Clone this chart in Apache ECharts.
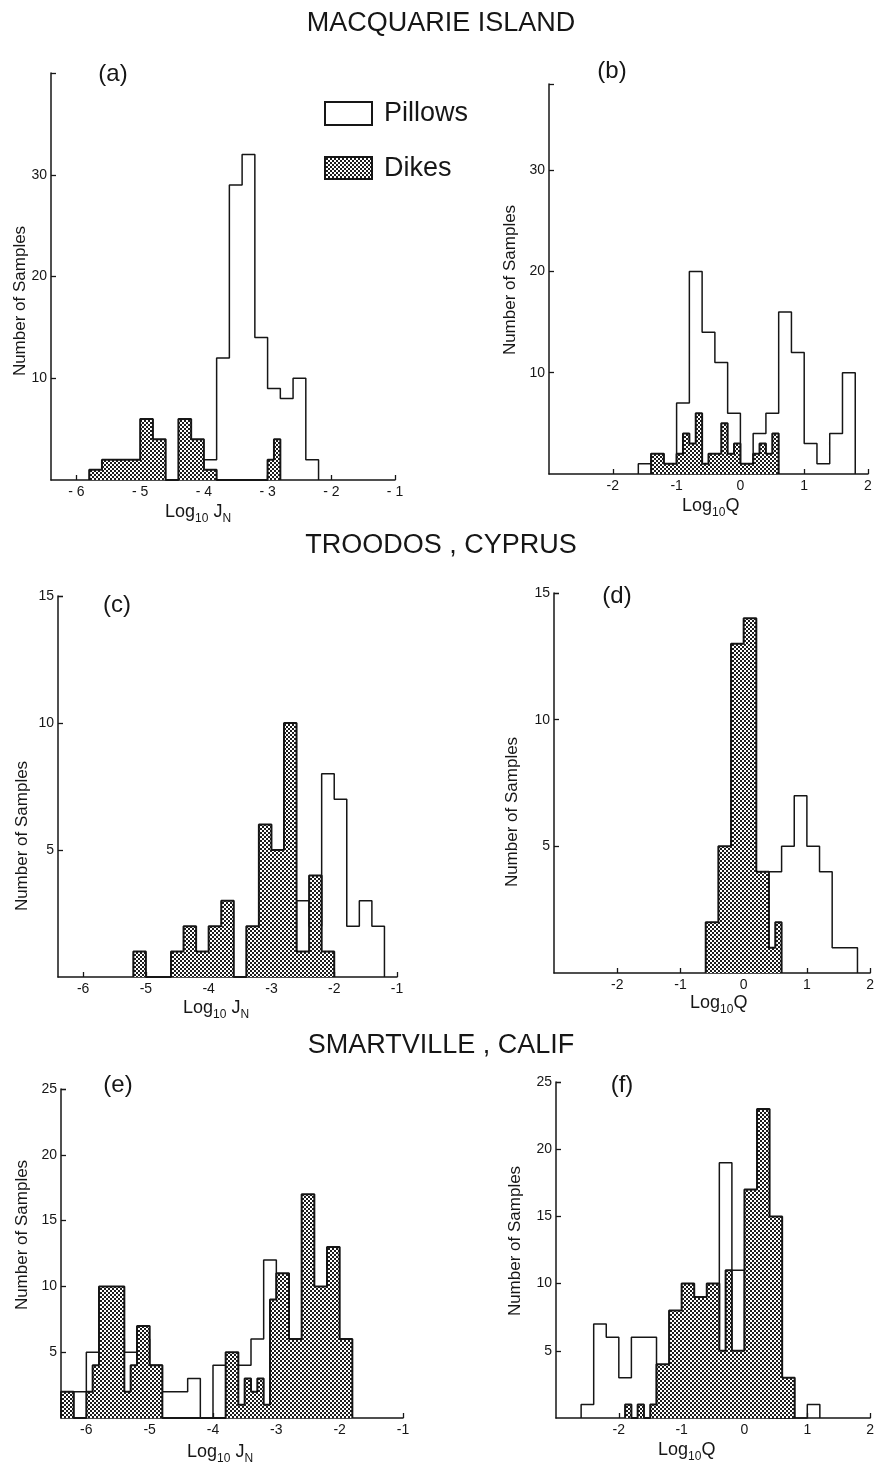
<!DOCTYPE html>
<html>
<head>
<meta charset="utf-8">
<style>
  html, body { margin: 0; padding: 0; background: #fff; }
  #main { width: 877px; height: 1466px; }
</style>
<script src="https://cdn.jsdelivr.net/npm/echarts@6/dist/echarts.min.js"></script>
</head>
<body>
<div id="main"></div>
<script>
// each bin: [from, to, count]
const pillowsA = [[-4.0, -3.8, 2], [-3.8, -3.6, 12], [-3.6, -3.4, 29], [-3.4, -3.2, 32], [-3.2, -3.0, 14],
  [-3.0, -2.8, 9], [-2.8, -2.6, 8], [-2.6, -2.4, 10], [-2.4, -2.2, 2]]
const dikesA = [[-5.8, -5.6, 1], [-5.6, -5.4, 2], [-5.4, -5.2, 2], [-5.2, -5.0, 2], [-5.0, -4.8, 6], [-4.8, -4.6, 4],
  [-4.4, -4.2, 6], [-4.2, -4.0, 4], [-4.0, -3.8, 1], [-3.0, -2.9, 2], [-2.9, -2.8, 4]]

const pillowsB = [[-1.6, -1.4, 1], [-1.4, -1.2, 2], [-1.2, -1.0, 1], [-1.0, -0.8, 7], [-0.8, -0.6, 20], [-0.6, -0.4, 14],
  [-0.4, -0.2, 11], [-0.2, 0, 6], [0, 0.2, 1], [0.2, 0.4, 4], [0.4, 0.6, 6], [0.6, 0.8, 16], [0.8, 1.0, 12],
  [1.0, 1.2, 3], [1.2, 1.4, 1], [1.4, 1.6, 4], [1.6, 1.8, 10]]
const dikesB = [[-1.4, -1.2, 2], [-1.2, -1.0, 1], [-1.0, -0.9, 2], [-0.9, -0.8, 4], [-0.8, -0.7, 3], [-0.7, -0.6, 6],
  [-0.6, -0.5, 1], [-0.5, -0.4, 2], [-0.4, -0.3, 2], [-0.3, -0.2, 5], [-0.2, -0.1, 2], [-0.1, 0, 3],
  [0, 0.1, 1], [0.1, 0.2, 1], [0.2, 0.3, 2], [0.3, 0.4, 3], [0.4, 0.5, 2], [0.5, 0.6, 4]]

const pillowsC = [[-2.6, -2.4, 3], [-2.4, -2.2, 2], [-2.2, -2.0, 8], [-2.0, -1.8, 7], [-1.8, -1.6, 2], [-1.6, -1.4, 3],
  [-1.4, -1.2, 2]]
const dikesC = [[-5.2, -5.0, 1], [-4.6, -4.4, 1], [-4.4, -4.2, 2], [-4.2, -4.0, 1], [-4.0, -3.8, 2], [-3.8, -3.6, 3],
  [-3.4, -3.2, 2], [-3.2, -3.0, 6], [-3.0, -2.8, 5], [-2.8, -2.6, 10], [-2.6, -2.4, 1], [-2.4, -2.2, 4], [-2.2, -2.0, 1]]

const pillowsD = [[0.2, 0.4, 4], [0.4, 0.6, 4], [0.6, 0.8, 5], [0.8, 1.0, 7], [1.0, 1.2, 5], [1.2, 1.4, 4],
  [1.4, 1.6, 1], [1.6, 1.8, 1]]
const dikesD = [[-0.6, -0.4, 2], [-0.4, -0.2, 5], [-0.2, 0, 13], [0, 0.2, 14], [0.2, 0.4, 4], [0.4, 0.5, 1], [0.5, 0.6, 2]]

const pillowsE = [[-6.2, -6.0, 2], [-6.0, -5.8, 5], [-5.8, -5.6, 7], [-5.6, -5.4, 6], [-5.4, -5.2, 5], [-5.2, -5.0, 6],
  [-5.0, -4.8, 4], [-4.8, -4.6, 2], [-4.6, -4.4, 2], [-4.4, -4.2, 3], [-4.0, -3.8, 4], [-3.8, -3.6, 4],
  [-3.6, -3.4, 4], [-3.4, -3.2, 6], [-3.2, -3.0, 12], [-3.0, -2.8, 9], [-2.8, -2.6, 2], [-2.6, -2.4, 1]]
const dikesE = [[-6.4, -6.2, 2], [-6.0, -5.9, 2], [-5.9, -5.8, 4], [-5.8, -5.6, 10], [-5.6, -5.4, 10], [-5.4, -5.3, 2],
  [-5.3, -5.2, 4], [-5.2, -5.0, 7], [-5.0, -4.8, 4], [-3.8, -3.6, 5], [-3.6, -3.5, 1], [-3.5, -3.4, 3],
  [-3.4, -3.3, 2], [-3.3, -3.2, 3], [-3.2, -3.1, 1], [-3.1, -3.0, 9], [-3.0, -2.8, 11], [-2.8, -2.6, 6],
  [-2.6, -2.4, 17], [-2.4, -2.2, 10], [-2.2, -2.0, 13], [-2.0, -1.8, 6]]

const pillowsF = [[-2.6, -2.4, 1], [-2.4, -2.2, 7], [-2.2, -2.0, 6], [-2.0, -1.8, 3], [-1.8, -1.6, 6], [-1.6, -1.4, 6],
  [-1.4, -1.2, 1], [-1.2, -1.0, 3], [-1.0, -0.8, 3], [-0.8, -0.6, 2], [-0.6, -0.4, 6], [-0.4, -0.2, 19],
  [-0.2, 0, 11], [0, 0.2, 5], [0.2, 0.4, 3], [1.0, 1.2, 1]]
const dikesF = [[-1.9, -1.8, 1], [-1.7, -1.6, 1], [-1.5, -1.4, 1], [-1.4, -1.2, 4], [-1.2, -1.0, 8], [-1.0, -0.8, 10],
  [-0.8, -0.6, 9], [-0.6, -0.4, 10], [-0.4, -0.3, 5], [-0.3, -0.2, 11], [-0.2, 0, 5], [0, 0.2, 17],
  [0.2, 0.4, 23], [0.4, 0.6, 15], [0.6, 0.8, 3]]

const ticksJN = [-6, -5, -4, -3, -2, -1]
const ticksQ = [-2, -1, 0, 1, 2]
const countLabelsAB = [10, 20, 30]
const countLabelsCD = [5, 10, 15]
const countLabelsEF = [5, 10, 15, 20, 25]

const sites = ['MACQUARIE ISLAND', 'TROODOS , CYPRUS', 'SMARTVILLE , CALIF']
const panelLetters = ['(a)', '(b)', '(c)', '(d)', '(e)', '(f)']

const INK = '#161616'
const FONT = '"Liberation Sans", Arial, sans-serif'

// checkered fill used for the dikes
const hatch = document.createElement('canvas')
hatch.width = 4
hatch.height = 4
const hg = hatch.getContext('2d')
hg.fillStyle = '#fff'
hg.fillRect(0, 0, 4, 4)
hg.fillStyle = '#1c1c1c'
hg.fillRect(0, 0, 2, 2)
hg.fillRect(2, 2, 2, 2)
const hatchFill = { image: hatch, repeat: 'repeat' }

// histogram bins -> points for a step line
function stepPoints (bins) {
  const pts = []
  let last = null
  bins.forEach(([a, b, c]) => {
    if (last === null || Math.abs(last - a) > 1e-9) {
      if (last !== null) pts.push([last, 0])
      pts.push([a, 0])
    }
    pts.push([a, c])
    last = b
  })
  pts.push([last, 0])
  return pts
}

const panels = [
  { pillows: pillowsA, dikes: dikesA, x: [-6.4, -1], y: 40, xTicks: ticksJN, yLabels: countLabelsAB, spaced: true,
    grid: { left: 51, top: 73, width: 344, height: 407 } },
  { pillows: pillowsB, dikes: dikesB, x: [-3, 2], y: 38.5, xTicks: ticksQ, yLabels: countLabelsAB,
    grid: { left: 549, top: 84, width: 319, height: 390 } },
  { pillows: pillowsC, dikes: dikesC, x: [-6.4, -1], y: 15, xTicks: ticksJN, yLabels: countLabelsCD,
    grid: { left: 58, top: 596, width: 339, height: 381 } },
  { pillows: pillowsD, dikes: dikesD, x: [-3, 2], y: 15, xTicks: ticksQ, yLabels: countLabelsCD,
    grid: { left: 554, top: 593, width: 317, height: 380 } },
  { pillows: pillowsE, dikes: dikesE, x: [-6.4, -1], y: 25, xTicks: ticksJN, yLabels: countLabelsEF,
    grid: { left: 61, top: 1089, width: 342, height: 329 } },
  { pillows: pillowsF, dikes: dikesF, x: [-3, 2], y: 25, xTicks: ticksQ, yLabels: countLabelsEF,
    grid: { left: 556, top: 1082, width: 317, height: 336 } }
]

const option = {
  animation: false,
  backgroundColor: '#fff',
  textStyle: { fontFamily: FONT },
  grid: [],
  xAxis: [],
  yAxis: [],
  series: [],
  graphic: []
}

panels.forEach((p, i) => {
  option.grid.push(p.grid)
  option.xAxis.push({
    gridIndex: i,
    type: 'value',
    min: p.x[0],
    max: p.x[1],
    axisLine: { onZero: false, lineStyle: { color: INK, width: 1.5 } },
    axisTick: { inside: true, length: 5, customValues: p.xTicks, lineStyle: { color: INK, width: 1.3 } },
    axisLabel: {
      customValues: p.xTicks,
      color: INK,
      fontSize: 14,
      margin: 5,
      formatter: v => (p.spaced && v < 0 ? '- ' + (-v) : String(v))
    },
    splitLine: { show: false }
  })
  option.yAxis.push({
    gridIndex: i,
    type: 'value',
    min: 0,
    max: p.y,
    axisLine: { show: true, onZero: false, lineStyle: { color: INK, width: 1.5 } },
    axisTick: { show: true, inside: true, length: 5, customValues: p.yLabels.concat([p.y]), lineStyle: { color: INK, width: 1.3 } },
    axisLabel: { customValues: p.yLabels, color: INK, fontSize: 14, margin: 4 },
    splitLine: { show: false }
  })
  option.series.push({
    name: 'Pillows',
    type: 'line',
    xAxisIndex: i,
    yAxisIndex: i,
    step: 'end',
    symbol: 'none',
    clip: false,
    silent: true,
    z: 2,
    data: stepPoints(p.pillows),
    lineStyle: { color: INK, width: 1.5 }
  })
  option.series.push({
    name: 'Dikes',
    type: 'line',
    xAxisIndex: i,
    yAxisIndex: i,
    step: 'end',
    symbol: 'none',
    clip: false,
    silent: true,
    z: 3,
    data: stepPoints(p.dikes),
    lineStyle: { color: INK, width: 2 },
    areaStyle: { color: hatchFill, opacity: 1 }
  })
})

function txt (text, x, y, size, extra) {
  return Object.assign({
    type: 'text',
    x: x,
    y: y,
    silent: true,
    style: { text: text, fill: INK, font: size + 'px ' + FONT, align: 'center', verticalAlign: 'middle' }
  }, extra || {})
}

// site titles
option.graphic.push(txt(sites[0], 441, 24, 27))
option.graphic.push(txt(sites[1], 441, 546, 27))
option.graphic.push(txt(sites[2], 441, 1046, 27))

// panel letters
const letterPos = [[113, 74], [612, 71], [117, 605], [617, 596], [118, 1085], [622, 1085]]
panelLetters.forEach((t, i) => option.graphic.push(txt(t, letterPos[i][0], letterPos[i][1], 24)))

// y axis names
const yNamePos = [[20, 301], [510, 280], [22, 836], [512, 812], [22, 1235], [515, 1241]]
yNamePos.forEach(pos => option.graphic.push(txt('Number of Samples', pos[0], pos[1], 17, { rotation: Math.PI / 2 })))

// x axis names with subscripts
const sub = {
  a: { fontSize: 18, fontFamily: FONT, fill: INK, lineHeight: 18, verticalAlign: 'top' },
  s: { fontSize: 12, fontFamily: FONT, fill: INK, lineHeight: 22, verticalAlign: 'bottom' }
}
const jnName = '{a|Log}{s|10}{a| J}{s|N}'
const qName = '{a|Log}{s|10}{a|Q}'
const xNames = [[jnName, 165, 514], [qName, 682, 508], [jnName, 183, 1010], [qName, 690, 1005], [jnName, 187, 1454], [qName, 658, 1452]]
xNames.forEach(([t, x, y]) => option.graphic.push({
  type: 'text', x: x, y: y, silent: true,
  style: { text: t, rich: sub, align: 'left', verticalAlign: 'middle' }
}))

// legend
option.graphic.push({ type: 'rect', silent: true, shape: { x: 325, y: 102, width: 47, height: 23 }, style: { fill: '#fff', stroke: INK, lineWidth: 2 } })
option.graphic.push({ type: 'rect', silent: true, shape: { x: 325, y: 157, width: 47, height: 22 }, style: { fill: hatchFill, stroke: INK, lineWidth: 2 } })
option.graphic.push(txt('Pillows', 384, 114, 27, { style: { text: 'Pillows', fill: INK, font: '27px ' + FONT, align: 'left', verticalAlign: 'middle' } }))
option.graphic.push(txt('Dikes', 384, 169, 27, { style: { text: 'Dikes', fill: INK, font: '27px ' + FONT, align: 'left', verticalAlign: 'middle' } }))

const chart = echarts.init(document.getElementById('main'))
chart.setOption(option)
window.addEventListener('resize', () => chart.resize())
</script>
</body>
</html>
